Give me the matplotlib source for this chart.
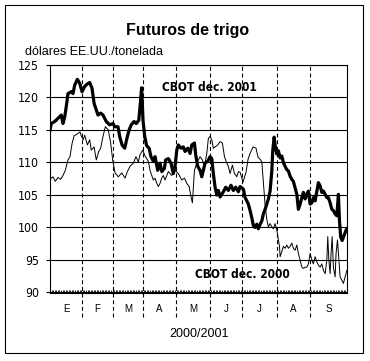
import matplotlib
matplotlib.use("Agg")
import matplotlib.pyplot as plt
import numpy as np
from matplotlib.patches import Rectangle

# Futuros de trigo, CBOT (dólares EE.UU./tonelada)
# eje x: sesiones desde el 1 de enero
month_labels = ["E", "F", "M", "A", "M", "J", "J", "A", "S"]
month_starts = [0, 20.5, 40.3, 59.5, 80.6, 102.4, 122.9, 145.3, 166.4, 190]

# CBOT dec. 2001 (línea gruesa)
dec2001_x = [0, 0.8, 3.0, 5.1, 7.2, 8.3, 9.4, 10.4, 11.5, 13.6,
             14.7, 15.8, 17.5, 19.0, 20.5, 22.2, 23.9, 25.4, 26.9, 28.2,
             29.6, 30.7, 32.4, 33.9, 36.0, 38.2, 40.3, 41.4, 43.5, 44.6,
             46.1, 47.8, 49.5, 50.6, 52.0, 53.8, 55.2, 56.8, 57.8, 58.6,
             59.5, 60.6, 61.8, 63.4, 64.6, 66.1, 67.2, 68.9, 70.4, 71.5,
             73.2, 74.0, 75.7, 77.4, 78.9, 80.0, 81.1, 82.1, 83.8, 85.3,
             86.4, 88.1, 89.6, 90.7, 92.4, 93.2, 94.5, 96.0, 97.1, 98.1,
             99.2, 100.9, 102.4, 103.5, 104.5, 105.6, 106.7, 107.7, 108.8, 110.9,
             112.4, 114.1, 115.8, 117.3, 118.8, 120.5, 121.6, 122.7, 123.7, 124.8,
             125.9, 126.9, 128.0, 129.1, 130.1, 131.2, 132.3, 133.3, 134.4, 135.5,
             136.5, 137.6, 138.7, 139.7, 140.8, 141.9, 142.5, 143.4, 144.2, 145.1,
             146.1, 147.2, 148.3, 149.3, 150.4, 151.5, 152.5, 153.6, 154.7, 155.7,
             156.8, 157.9, 158.9, 160.0, 161.1, 162.1, 163.2, 164.3, 165.3, 166.4,
             167.5, 168.5, 169.6, 170.7, 171.7, 172.8, 173.9, 174.9, 176.0, 177.1,
             178.1, 179.2, 180.3, 181.3, 182.4, 183.5, 184.5, 185.2, 186.0, 186.9,
             187.7, 189.4, 190.0]
dec2001_y = [115.0, 116.0, 116.3, 116.8, 117.3, 116.0, 117.0, 118.6, 120.6, 120.9,
             120.6, 121.9, 122.8, 122.2, 120.9, 121.7, 122.1, 122.3, 121.4, 119.1,
             118.1, 117.3, 117.6, 117.3, 116.3, 115.8, 116.0, 115.5, 115.5, 114.0,
             112.7, 112.2, 114.0, 115.0, 115.8, 116.3, 116.0, 116.5, 119.1, 121.5,
             116.5, 114.0, 112.6, 112.2, 110.9, 110.2, 110.9, 108.8, 109.9, 108.6,
             109.1, 110.4, 110.6, 109.9, 108.3, 109.4, 111.9, 112.7, 112.2, 112.4,
             111.7, 112.2, 111.4, 112.7, 113.0, 111.2, 109.4, 108.8, 107.8, 108.8,
             109.9, 110.2, 110.9, 110.6, 108.3, 106.2, 105.0, 105.7, 104.7, 105.5,
             106.2, 105.7, 106.5, 105.7, 106.2, 105.5, 106.3, 106.1, 105.9, 104.6,
             104.1, 103.6, 102.6, 101.5, 100.3, 100.0, 100.5, 99.8, 100.5, 101.0,
             102.1, 102.8, 103.6, 104.4, 105.6, 108.7, 111.8, 113.9, 112.3, 111.3,
             111.8, 110.7, 111.0, 110.0, 109.4, 108.9, 108.7, 107.9, 107.4, 107.1,
             106.1, 105.1, 102.8, 103.6, 104.6, 105.4, 104.4, 105.1, 105.6, 103.6,
             103.8, 104.6, 104.1, 105.6, 106.9, 106.4, 105.4, 105.6, 105.1, 104.6,
             104.6, 103.8, 102.8, 102.6, 102.1, 101.8, 105.1, 101.0, 98.5, 98.0,
             98.5, 99.6, 99.8]

# CBOT dec. 2000 (línea fina)
dec2000_x = [0, 0.8, 1.9, 3.4, 5.1, 6.8, 8.3, 9.8, 11.5, 12.8,
             14.1, 15.4, 17.5, 19.2, 20.0, 21.3, 22.2, 23.9, 25.4, 26.4,
             28.2, 29.6, 31.2, 32.4, 33.9, 35.4, 37.3, 38.8, 40.1, 41.6,
             43.7, 45.9, 48.0, 49.5, 51.2, 53.3, 55.0, 56.5, 57.6, 59.3,
             60.8, 62.9, 64.0, 65.1, 66.1, 67.2, 68.3, 69.3, 70.4, 71.5,
             72.5, 73.6, 75.7, 77.9, 80.0, 82.1, 84.3, 86.0, 87.5, 89.0,
             90.2, 91.1, 92.4, 93.9, 94.9, 96.0, 97.5, 98.8, 100.3, 101.3,
             102.4, 103.5, 104.5, 105.6, 107.3, 108.8, 110.3, 111.6, 113.1, 114.1,
             115.2, 116.7, 118.0, 119.5, 120.5, 121.6, 123.5, 125.4, 126.7, 128.0,
             129.9, 131.8, 133.1, 134.4, 135.5, 136.5, 137.6, 138.7, 139.7, 140.8,
             141.9, 142.9, 144.0, 145.1, 146.1, 146.8, 147.2, 148.3, 149.3, 150.4,
             151.5, 152.5, 153.6, 154.7, 155.7, 156.8, 157.9, 158.9, 160.0, 161.1,
             162.1, 163.2, 164.3, 165.3, 166.4, 167.5, 168.5, 169.6, 170.7, 171.7,
             172.8, 173.9, 174.9, 176.0, 177.1, 177.7, 178.4, 179.2, 179.8, 180.5,
             181.3, 182.4, 183.0, 183.9, 184.8, 185.6, 186.7, 187.7, 188.8, 189.9]
dec2000_y = [107.3, 107.6, 107.8, 107.1, 107.7, 107.4, 108.0, 108.8, 110.4, 110.9,
             112.9, 114.1, 114.4, 114.7, 114.1, 113.5, 114.2, 112.7, 113.5, 111.9,
             112.4, 110.4, 111.7, 112.2, 114.0, 115.5, 115.0, 113.0, 110.4, 108.4,
             107.8, 108.4, 107.6, 108.6, 109.4, 109.9, 110.9, 110.1, 111.2, 111.9,
             111.0, 110.2, 108.8, 108.0, 107.3, 107.6, 106.8, 106.3, 106.8, 107.6,
             108.0, 107.3, 108.6, 108.0, 108.8, 108.3, 107.3, 107.6, 106.8, 106.3,
             104.7, 103.8, 108.8, 109.9, 110.4, 110.9, 110.4, 109.4, 111.4, 113.7,
             114.0, 113.5, 112.2, 112.4, 112.7, 113.2, 113.0, 110.9, 109.9, 109.4,
             108.3, 109.6, 108.3, 107.8, 108.6, 108.5, 107.0, 108.5, 110.5, 111.4,
             112.4, 112.2, 110.8, 110.5, 110.1, 107.0, 103.5, 101.2, 100.1, 100.6,
             100.1, 99.8, 100.6, 99.6, 98.1, 97.1, 95.5, 96.3, 97.1, 96.8,
             97.3, 96.8, 97.1, 97.6, 96.8, 96.5, 97.3, 96.0, 95.0, 93.9,
             93.7, 93.9, 93.9, 94.4, 96.0, 95.0, 94.4, 95.5, 94.7, 94.2,
             93.9, 94.4, 93.4, 92.9, 95.0, 98.6, 95.0, 92.9, 96.0, 98.6,
             93.9, 92.4, 96.0, 98.1, 95.0, 92.4, 91.9, 91.4, 92.4, 93.4]

plt.rcParams["font.family"] = ["Liberation Sans", "DejaVu Sans"]
# letra estrecha para cifras y rótulos de serie
narrow = dict(family="DejaVu Sans", fontstretch="condensed")

W, H = 370, 361
fig = plt.figure(figsize=(W / 100, H / 100), dpi=100)
ax = fig.add_axes([50 / W, 1 - 292.5 / H, 297 / W, 227.5 / H])

ax.plot(dec2000_x, dec2000_y, color="black", lw=0.7, zorder=3)
ax.plot(dec2001_x, dec2001_y, color="black", lw=2.3, zorder=4)

ax.set_xlim(month_starts[0], month_starts[-1])
ax.set_ylim(90, 125)
ax.set_yticks(np.arange(90, 126, 5))
ax.yaxis.grid(True, color="black", lw=0.8)
ax.set_axisbelow(True)
for sp in ax.spines.values():
    sp.set_linewidth(0.8)

# separadores de meses (punteados, bajan hasta las etiquetas)
for m in month_starts[1:-1]:
    ax.axvline(m, ymin=-0.108, ymax=1.005, clip_on=False, color="black",
               lw=0.8, dashes=(3.5, 2.5), zorder=2)

centers = [(a + b) / 2 for a, b in zip(month_starts[:-1], month_starts[1:])]
ax.set_xticks(centers)
ax.set_xticklabels(month_labels, fontsize=7)
ax.set_xticks(np.arange(0, 191, 1), minor=True)
ax.tick_params(axis="x", which="major", length=0, pad=8)
ax.tick_params(axis="x", which="minor", direction="in", length=2, width=0.6)
ax.tick_params(axis="y", direction="out", length=3, width=0.8, pad=5)
for lab in ax.get_yticklabels():
    lab.set_fontfamily("DejaVu Sans")
    lab.set_fontstretch("condensed")
    lab.set_fontsize(8.8)

ax.text(71.5, 121.0, "CBOT dec. 2001", fontsize=8.6, fontweight="bold",
        va="baseline", ha="left", zorder=5, **narrow)
ax.text(92.8, 92.2, "CBOT dec. 2000", fontsize=8.6, fontweight="bold",
        va="baseline", ha="left", zorder=5, **narrow)

fig.text(188 / W, 1 - 31 / H, "Futuros de trigo", fontsize=11.5,
         fontweight="bold", ha="center", va="center")
fig.text(25 / W, 1 - 55 / H, "dólares EE.UU./tonelada", fontsize=9,
         ha="left", va="baseline")
fig.text(199.5 / W, 1 - 334 / H, "2000/2001", fontsize=9,
         ha="center", va="center")

# marco exterior
fig.add_artist(Rectangle((5 / W, 8 / H), 358 / W, 348 / H, transform=fig.transFigure,
                         fill=False, lw=0.8, color="black"))

fig.savefig("out.png", dpi=100)
